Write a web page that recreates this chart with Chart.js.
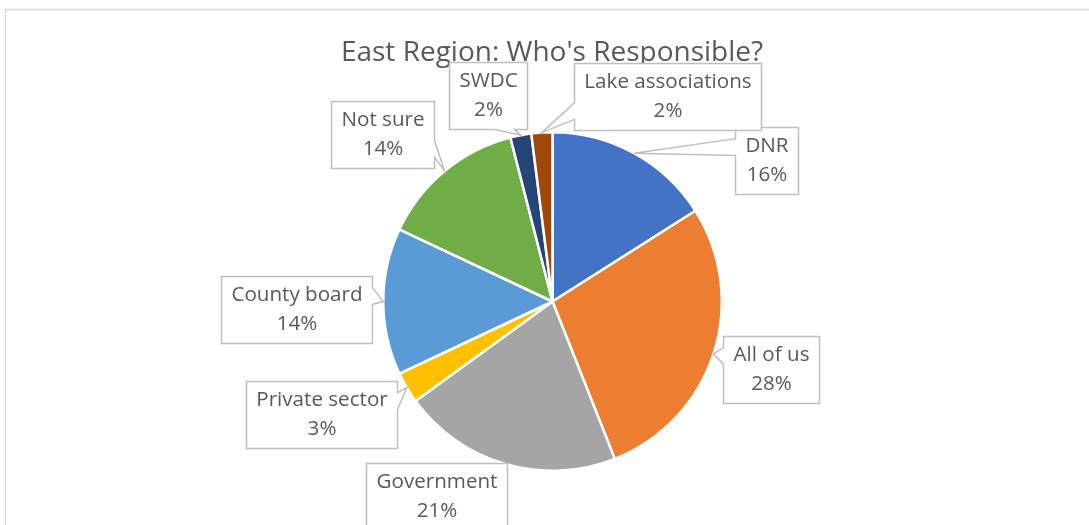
<!DOCTYPE html>
<html>
<head>
<meta charset="utf-8">
<script src="https://cdn.jsdelivr.net/npm/chart.js@4/dist/chart.umd.min.js"></script>
<style>
  html, body { margin: 0; padding: 0; background: #fff; }
  canvas { display: block; }
</style>
</head>
<body>
<canvas id="myChart" width="1089" height="525"></canvas>
<script>
const title = "East Region: Who's Responsible?";
const categories = ["DNR", "All of us", "Government", "Private sector", "County board", "Not sure", "SWDC", "Lake associations"];
const shares = [16, 28, 21, 3, 14, 14, 2, 2];
const sliceColors = ["#4472C4", "#ED7D31", "#A5A5A5", "#FFC000", "#5B9BD5", "#70AD47", "#264478", "#9E480E"];

// where each callout box sits, relative to the pie centre
const calloutOffsets = [
  [213.5, -141.5],
  [218, 68],
  [-116.5, 194.5],
  [-231, 112.5],
  [-256, 7.5],
  [-170.5, -167],
  [-65, -206.5],
  [115, -205]
];

const labelFont = "20.6px 'Open Sans'";
const titleFont = "28px 'Open Sans'";

// rectangle with a wedge pointing at (tx, ty), same rules as office "wedgeRectCallout"
function calloutPath(ctx, l, t, w, h, tx, ty) {
  const r = l + w, b = t + h;
  const cx = l + w / 2, cy = t + h / 2;
  const dx = tx - cx, dy = ty - cy;
  ctx.beginPath();
  if (tx >= l - 3 && tx <= r + 3 && ty >= t - 3 && ty <= b + 3) {
    ctx.rect(l, t, w, h);
    return;
  }
  const dz = Math.abs(dy) - Math.abs(dx * h / w);
  const x1 = l + w * (dx > 0 ? 7 : 2) / 12, x2 = l + w * (dx > 0 ? 10 : 5) / 12;
  const y1 = t + h * (dy > 0 ? 7 : 2) / 12, y2 = t + h * (dy > 0 ? 10 : 5) / 12;
  ctx.moveTo(l, t);
  if (dz > 0 && dy < 0) { ctx.lineTo(x1, t); ctx.lineTo(tx, ty); ctx.lineTo(x2, t); }
  ctx.lineTo(r, t);
  if (dz <= 0 && dx > 0) { ctx.lineTo(r, y1); ctx.lineTo(tx, ty); ctx.lineTo(r, y2); }
  ctx.lineTo(r, b);
  if (dz > 0 && dy > 0) { ctx.lineTo(x2, b); ctx.lineTo(tx, ty); ctx.lineTo(x1, b); }
  ctx.lineTo(l, b);
  if (dz <= 0 && dx < 0) { ctx.lineTo(l, y2); ctx.lineTo(tx, ty); ctx.lineTo(l, y1); }
  ctx.closePath();
}

const frameAndTitle = {
  id: "frameAndTitle",
  beforeDraw(chart) {
    const ctx = chart.ctx;
    ctx.save();
    ctx.strokeStyle = "#d9d9d9";
    ctx.lineWidth = 1.5;
    ctx.strokeRect(5.5, 9.5, 2000, 1000);
    ctx.fillStyle = "#595959";
    ctx.font = titleFont;
    ctx.textAlign = "center";
    ctx.textBaseline = "alphabetic";
    ctx.fillText(title, 552, 61);
    ctx.restore();
  }
};

const callouts = {
  id: "callouts",
  afterDatasetsDraw(chart) {
    const ctx = chart.ctx;
    const meta = chart.getDatasetMeta(0);
    const total = shares.reduce((a, b) => a + b, 0);
    ctx.save();
    ctx.font = labelFont;
    meta.data.forEach((arc, i) => {
      const p = arc.getProps(["x", "y", "startAngle", "endAngle", "outerRadius"], true);
      const mid = (p.startAngle + p.endAngle) / 2;
      const tx = p.x + Math.cos(mid) * p.outerRadius;
      const ty = p.y + Math.sin(mid) * p.outerRadius;
      const line1 = categories[i];
      const line2 = Math.round(shares[i] / total * 100) + "%";
      const w = Math.round(Math.max(ctx.measureText(line1).width, ctx.measureText(line2).width) + 20);
      const h = 67;
      const cx = p.x + calloutOffsets[i][0];
      const cy = p.y + calloutOffsets[i][1];
      const l = Math.round(cx - w / 2) + 0.5;
      const t = Math.round(cy - h / 2) + 0.5;
      calloutPath(ctx, l, t, w, h, tx, ty);
      ctx.fillStyle = "#ffffff";
      ctx.fill();
      ctx.strokeStyle = "#bfbfbf";
      ctx.lineWidth = 1.5;
      ctx.stroke();
      ctx.fillStyle = "#595959";
      ctx.textAlign = "center";
      ctx.textBaseline = "middle";
      ctx.fillText(line1, l + w / 2, t + 19);
      ctx.fillText(line2, l + w / 2, t + 48);
    });
    ctx.restore();
  }
};

const ctx = document.getElementById("myChart");
const myChart = new Chart(ctx, {
  type: "pie",
  data: {
    labels: categories,
    datasets: [
      {
        data: shares,
        backgroundColor: sliceColors,
        borderColor: "#ffffff",
        borderWidth: 2.5,
      },
    ],
  },
  options: {
    responsive: false,
    animation: false,
    layout: {
      padding: { left: 382, right: 366, top: 131, bottom: 53 },
    },
    plugins: {
      legend: { display: false },
      tooltip: { enabled: false },
      title: { display: false },
    },
  },
  plugins: [frameAndTitle, callouts],
});
</script>
</body>
</html>
